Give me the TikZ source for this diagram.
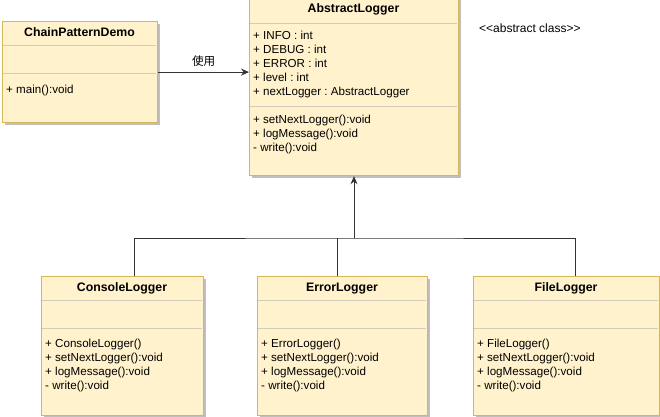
\documentclass[tikz,border=0pt]{standalone}
\usepackage{fontspec}
\setmainfont{Liberation Sans}
\newfontfamily\cjk{Noto Sans CJK SC}
\usetikzlibrary{arrows.meta,shadows,calc}
\definecolor{umlfill}{HTML}{FFF2CC}
\definecolor{umlline}{HTML}{D6B656}
\definecolor{sepline}{HTML}{D2CCBC}
\definecolor{conn}{HTML}{333333}
\frenchspacing
\begin{document}
\begin{tikzpicture}[x=1pt,y=-1pt,
  cls/.style={draw=umlline, fill=umlfill, line width=1.2pt, anchor=north west, inner sep=0pt,
    drop shadow={shadow xshift=2.5pt, shadow yshift=-2.5pt, fill=black, opacity=0.25}},
  sep/.style={draw=sepline, line width=1pt},
  txt/.style={anchor=base west, inner sep=0pt, font=\fontsize{11.6}{14}\selectfont\frenchspacing},
  ttl/.style={anchor=base, inner sep=0pt, font=\fontsize{12.3}{14}\selectfont\bfseries},
  conline/.style={draw=conn, line width=0.9pt},
  arr/.style={conline, -{Stealth[length=8pt,width=7pt]}}]
\useasboundingbox (0,0) rectangle (660,416);
\begin{scope}
\clip (0,0) rectangle (660,416);
% boxes
\node[cls, minimum width=155pt, minimum height=101pt] (demo) at (2,21) {};
\node[cls, minimum width=209pt, minimum height=179pt] (abs) at (249,-4) {};
\node[cls, minimum width=162pt, minimum height=139pt] (cl) at (41,276) {};
\node[cls, minimum width=170pt, minimum height=139pt] (el) at (257,276) {};
\node[cls, minimum width=186pt, minimum height=139pt] (fl) at (473,276) {};
\end{scope}
% separators
\draw[sep] (2.6,45) -- (156.4,45);
\draw[sep] (2.6,73) -- (156.4,73);
\draw[sep] (249.6,23) -- (457.4,23);
\draw[sep] (249.6,106) -- (457.4,106);
\foreach \bx/\bw in {41/162,257/170,473/186}{
  \draw[sep] ({\bx+0.6},300) -- ({\bx+\bw-0.6},300);
  \draw[sep] ({\bx+0.6},328) -- ({\bx+\bw-0.6},328);
}
% titles
\node[ttl] (t1) at (79.5,36.5) {ChainPatternDemo};
\node[ttl] (t2) at (353.5,12.5) {AbstractLogger};
\node[ttl] (t3) at (122,291.5) {ConsoleLogger};
\node[ttl] (t4) at (342,291.5) {ErrorLogger};
\node[ttl] (t5) at (566,291.5) {FileLogger};
% members
\node[txt] (m1) at (6,93) {+ main():void};
\foreach \t [count=\i] in {+ INFO : int,+ DEBUG : int,+ ERROR : int,+ level : int,+ nextLogger : AbstractLogger}
  \node[txt, name=aa\i] at (253,{39+14*(\i-1)}) {\t};
\foreach \t [count=\i] in {+ setNextLogger():void,+ logMessage():void,- write():void}
  \node[txt, name=am\i] at (253,{123+14*(\i-1)}) {\t};
\foreach \t [count=\i] in {+ ConsoleLogger(),+ setNextLogger():void,+ logMessage():void,- write():void}
  \node[txt, name=cm\i] at (45,{347+14*(\i-1)}) {\t};
\foreach \t [count=\i] in {+ ErrorLogger(),+ setNextLogger():void,+ logMessage():void,- write():void}
  \node[txt, name=em\i] at (261,{347+14*(\i-1)}) {\t};
\foreach \t [count=\i] in {+ FileLogger(),+ setNextLogger():void,+ logMessage():void,- write():void}
  \node[txt, name=fm\i] at (477,{347+14*(\i-1)}) {\t};
% stereotype
\node[txt, font=\fontsize{12}{14}\selectfont] (st) at (479,32) {<{}<abstract class>{}>};
% association
\draw[arr] (demo.east) -- (demo.east -| abs.west)
  node[midway, above=5pt, inner sep=0pt, font=\cjk\fontsize{11.6}{14}\selectfont] (use) {使用};
% inheritance
\coordinate (cltop) at ($(cl.north west)+(93,0)$);
\coordinate (eltop) at ($(el.north west)+(80,0)$);
\coordinate (fltop) at ($(fl.north west)+(102,0)$);
\coordinate (absb) at ($(abs.south west)+(105,0)$);
\coordinate (jn) at (absb |- 0,238);
\draw[conline] (cltop) |- (jn) -| (fltop);
\draw[conline] (eltop) -- (eltop |- jn);
\draw[arr] (jn) -- (absb);
\end{tikzpicture}
\end{document}
